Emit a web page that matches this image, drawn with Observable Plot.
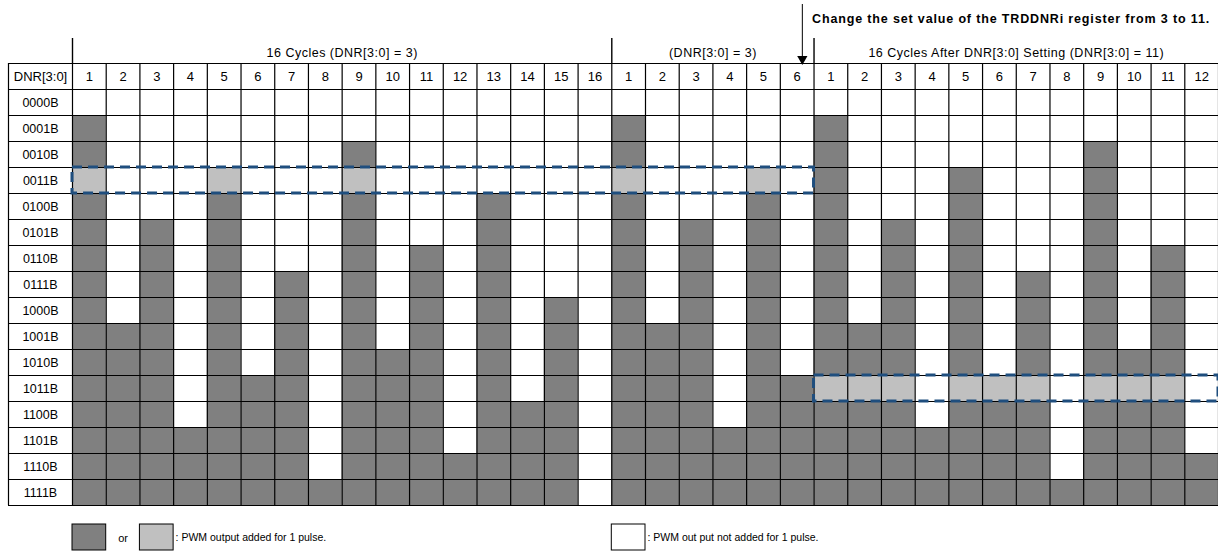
<!DOCTYPE html>
<html>
<head>
<meta charset="utf-8">
<script src="https://cdn.jsdelivr.net/npm/d3@7"></script>
<script src="https://cdn.jsdelivr.net/npm/@observablehq/plot@0.6"></script>
<style>
  html, body { margin: 0; padding: 0; background: #fff; }
  #chart svg { display: block; overflow: visible; }
  g[aria-description="title"] text { letter-spacing: 0.5px; }
  g[aria-description="note"] text { letter-spacing: 0.85px; }
</style>
</head>
<body>
<div id="chart"></div>
<script>
// ---- data ----
const rowLabels = ["0000B","0001B","0010B","0011B","0100B","0101B","0110B","0111B",
                   "1000B","1001B","1010B","1011B","1100B","1101B","1110B","1111B"];
const sectionTitles = ["16 Cycles (DNR[3:0] = 3)", "(DNR[3:0] = 3)",
                       "16 Cycles After DNR[3:0] Setting (DNR[3:0] = 11)"];
const sectionCycles = [16, 6, 12];
const sectionDNR = [3, 3, 11];
// smallest DNR value at which cycle n (1..16) gets an added pulse (16 = never)
const firstDNRWithPulse = [1, 9, 5, 13, 3, 11, 7, 15, 2, 10, 6, 14, 4, 12, 8, 16];
const headerLabel = "DNR[3:0]";
const annotation = "Change the set value of the TRDDNRi register from 3 to 11.";
const legendLabels = [": PWM output added for 1 pulse.", ": PWM out put not added for 1 pulse."];
const legendOr = "or";

// ---- build tables ----
const DARK = "#808080", LIGHT = "#c0c0c0", BLUE = "#1f4e7e";
const columns = [];
sectionCycles.forEach((n, s) => {
  for (let c = 1; c <= n; c++) columns.push({idx: columns.length, cycle: c, section: s});
});
const nCols = columns.length;
const cells = [];
columns.forEach(col => {
  rowLabels.forEach((lab, r) => {
    if (r >= firstDNRWithPulse[col.cycle - 1]) {
      cells.push({x1: col.idx, x2: col.idx + 1, y1: r, y2: r + 1,
                  fill: r === sectionDNR[col.section] ? LIGHT : DARK});
    }
  });
});
const sections = [];
let start = 0;
sectionCycles.forEach((n, s) => { sections.push({s, x1: start, x2: start + n, title: sectionTitles[s], dnr: sectionDNR[s]}); start += n; });
const highlights = [];
sections.forEach(sec => {
  const last = highlights[highlights.length - 1];
  if (last && last.dnr === sec.dnr) last.x2 = sec.x2;
  else highlights.push({x1: sec.x1, x2: sec.x2, dnr: sec.dnr, y1: sec.dnr, y2: sec.dnr + 1});
});
const changeAt = sections[2].x1;

// ---- geometry ----
const W = 1218, H = 551;
const X0 = 72, X1 = 1218, Y0 = 89, Y1 = 505;
const colW = (X1 - X0) / nCols, rowH = (Y1 - Y0) / rowLabels.length;
const labelLeft = -(X0 - 8) / colW;
const py = p => (p - Y0) / rowH;
const px = p => (p - X0) / colW;

const vLines = [labelLeft, ...d3.range(0, nCols + 1)].map(x => ({x}));
const hLines = d3.range(-1, rowLabels.length + 1).map(y => ({y}));

const legendY1 = py(524), legendY2 = py(550), legendYm = py(537.5);
const legendRects = [
  {x1: 0, x2: 1, fill: DARK},
  {x1: 2, x2: 3, fill: LIGHT},
  {x1: 16, x2: 17, fill: "#fff"}
];
const legendTexts = [
  {x: 3, label: legendLabels[0]},
  {x: 17, label: legendLabels[1]}
];
const arrowX = changeAt - px(813.4) + px(801.7);

const plot = Plot.plot({
  width: W, height: H,
  margin: 0,
  x: {type: "linear", domain: [0, nCols], range: [X0, X1], axis: null},
  y: {type: "linear", domain: [0, rowLabels.length], range: [Y0, Y1], axis: null},
  style: {fontFamily: "'Liberation Sans', Arial, sans-serif", fontSize: "12.5px", background: "#fff", color: "#000"},
  marks: [
    Plot.rect(cells, {x1: "x1", x2: "x2", y1: "y1", y2: "y2", fill: d => d.fill}),
    Plot.ruleX(vLines, {x: "x", y1: -1, y2: rowLabels.length, stroke: "#000", strokeWidth: 1.2}),
    Plot.ruleY(hLines, {y: "y", x1: labelLeft, x2: nCols, stroke: "#000", strokeWidth: 1.2}),
    Plot.ruleX(sections, {x: "x1", y1: py(38), y2: -1, stroke: "#000", strokeWidth: 1.4}),
    Plot.rect(highlights, {x1: "x1", x2: "x2", y1: "y1", y2: "y2", fill: "none",
      stroke: BLUE, strokeWidth: 3, strokeDasharray: "10,6"}),
    Plot.text([headerLabel], {x: labelLeft / 2, y: -0.5, text: d => d, fill: "#000", fontSize: 13}),
    Plot.text(columns, {x: d => d.idx + 0.5, y: -0.5, text: d => String(d.cycle), fill: "#000", fontSize: 13}),
    Plot.text(rowLabels, {x: labelLeft / 2, y: (d, i) => i + 0.5, text: d => d, fill: "#000", fontSize: 12.5}),
    Plot.text(sections, {x: d => (d.x1 + d.x2) / 2, y: py(52), text: "title", fill: "#000",
      fontSize: 12.5, ariaDescription: "title"}),
    Plot.ruleX([arrowX], {x: d => d, y1: py(4), y2: py(58), stroke: "#000", strokeWidth: 1}),
    Plot.dot([arrowX], {x: d => d, y: py(58.5), symbol: "triangle", rotate: 180,
      r: 3.8, fill: "#000", stroke: "none"}),
    Plot.text([annotation], {x: changeAt, dx: -2, y: py(18), text: d => d, textAnchor: "start",
      fontWeight: "bold", fontSize: 12.5, fill: "#000", ariaDescription: "note"}),
    Plot.rect(legendRects, {x1: "x1", x2: "x2", y1: legendY1, y2: legendY2, fill: "fill",
      stroke: "#000", strokeWidth: 1}),
    Plot.text([legendOr], {x: 1.5, y: legendYm, text: d => d, fill: "#000", fontSize: 11}),
    Plot.text(legendTexts, {x: "x", dx: 2, y: legendYm, text: "label", textAnchor: "start",
      fill: "#000", fontSize: 10.5})
  ]
});
document.getElementById("chart").appendChild(plot);
</script>
</body>
</html>
